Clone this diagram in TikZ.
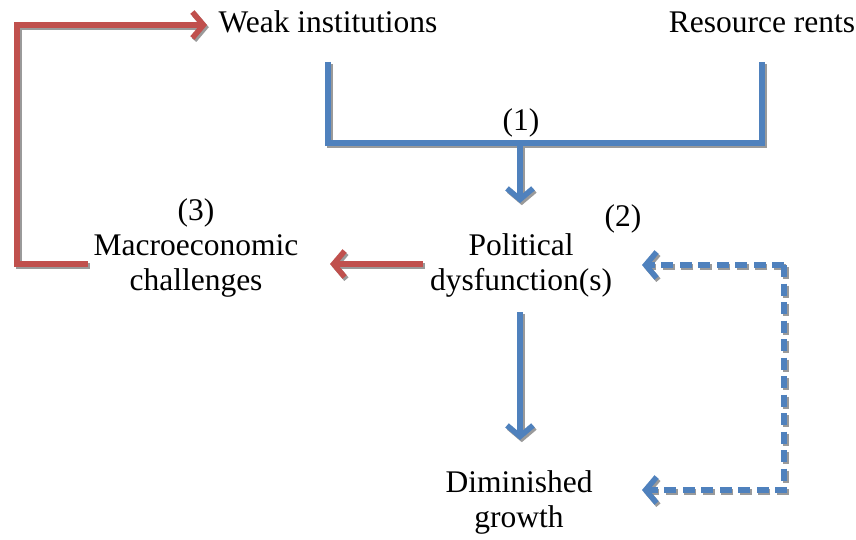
\documentclass[tikz,border=0pt]{standalone}
\usepackage{fontspec}
\setmainfont{Liberation Serif}
\usetikzlibrary{arrows.meta}
\definecolor{cred}{HTML}{C0504D}
\definecolor{cblue}{HTML}{4F81BD}
\definecolor{cshadow}{HTML}{9A9A9A}
\tikzset{
  lbl/.style={font=\fontsize{31.5}{35}\selectfont, inner sep=0pt, align=center, anchor=base},
  conn/.style={line width=5.5pt},
  tipv/.style={-{Straight Barb[length=11pt,width=26pt,line width=5.5pt]}},
  dashedline/.style={dash pattern=on 12pt off 6.5pt}
}
\newcommand\myconnectors[2]{%
  \draw[conn, #2, line join=miter] (bl) -- (bbl) -- (bbr) -- (br);
  \draw[conn, #2, tipv] (bm) -- (bmt);
  \draw[conn, #1, tipv, line join=miter] (rs) -- (rc1) -- (rc2) -- (rt);
  \draw[conn, #1, tipv] (ms) -- (mt);
  \draw[conn, #2, tipv] (ds) -- (dt);
  \draw[conn, #2, dashedline, tipv] (dc1) -- (dt1);
  \draw[conn, #2, dashedline, tipv] (dc1) -- (dc2) -- (dt2);
}
\begin{document}
\begin{tikzpicture}[x=1pt,y=-1pt]
\useasboundingbox (0,0) rectangle (856,540);
% text nodes
\node[lbl] (weak) at (328,33) {Weak institutions};
\node[lbl] (rents) at (762,33) {Resource rents};
\node[lbl] (one) at (521,131) {(1)};
\node[lbl] (two) at (623,226) {(2)};
\node[lbl] (three) at (196,220) {(3)};
\node[lbl] (macro) at (196,290) {Macroeconomic\\challenges};
\node[lbl] (pol) at (521,290) {Political\\dysfunction(s)};
\node[lbl] (dim) at (519,527) {Diminished\\growth};
% coordinates
\coordinate (bl) at (328,62);
\coordinate (bbl) at (328,143);
\coordinate (br) at (762,62);
\coordinate (bbr) at (762,143);
\coordinate (bm) at (520,143);
\coordinate (bmt) at (520,203);
\coordinate (rs) at (88,264);
\coordinate (rc1) at (17,264);
\coordinate (rc2) at (17,25);
\coordinate (rt) at (207,25);
\coordinate (ms) at (423,264);
\coordinate (mt) at (330,264);
\coordinate (ds) at (520,312);
\coordinate (dt) at (520,440);
\coordinate (dc1) at (784,265);
\coordinate (dc2) at (784,490);
\coordinate (dt1) at (642,265);
\coordinate (dt2) at (642,490);
% shadows
\begin{scope}[transform canvas={shift={(1.8pt,-2.2pt)}}]
  \myconnectors{draw=cshadow}{draw=cshadow}
\end{scope}
% connectors
\myconnectors{draw=cred}{draw=cblue}
\end{tikzpicture}
\end{document}
